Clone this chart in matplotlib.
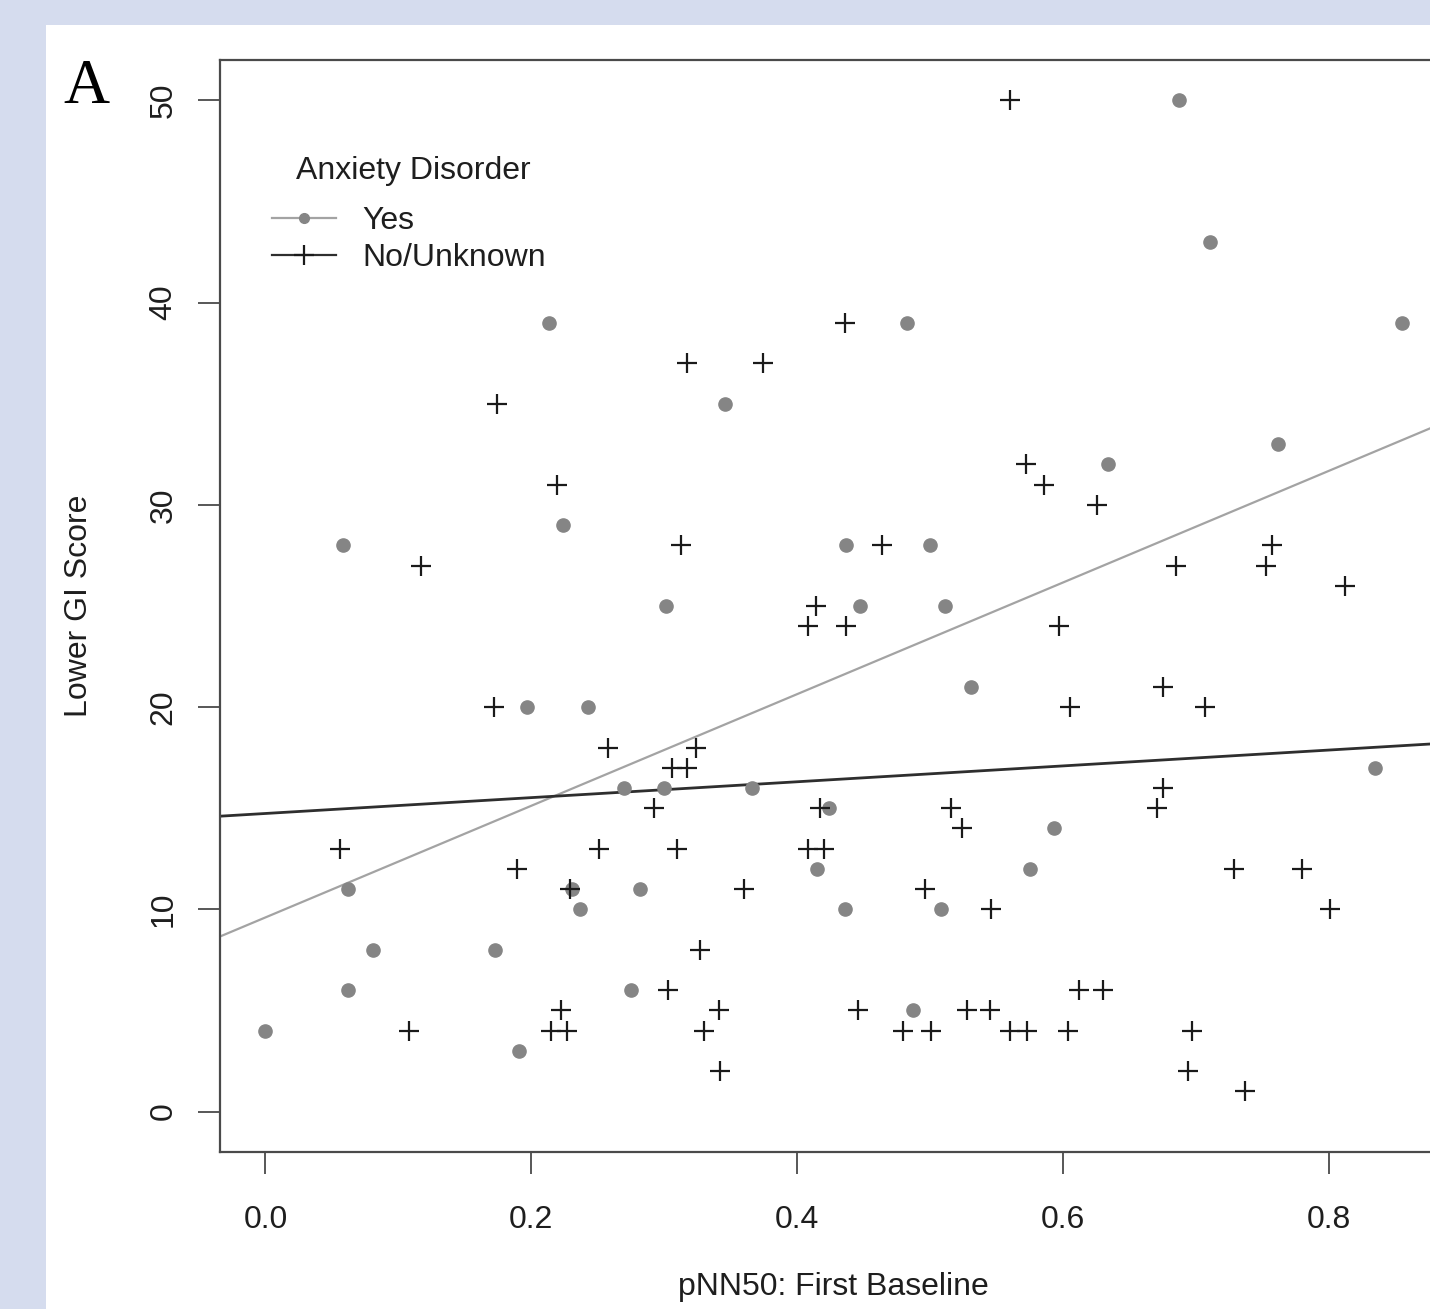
import matplotlib
matplotlib.use('Agg')
import matplotlib.pyplot as plt
from matplotlib.lines import Line2D
from matplotlib.patches import Rectangle

plt.rcParams['font.family'] = ['Liberation Sans', 'DejaVu Sans']

# anxiety disorder = Yes
yes_x = [0.000, 0.058, 0.062, 0.062, 0.081, 0.173, 0.191, 0.197, 0.213, 0.224,
         0.231, 0.237, 0.243, 0.270, 0.275, 0.282, 0.300, 0.301, 0.346, 0.366,
         0.415, 0.424, 0.436, 0.437, 0.447, 0.483, 0.487, 0.500, 0.508, 0.511,
         0.531, 0.575, 0.593, 0.634, 0.687, 0.711, 0.762, 0.835, 0.855]
yes_y = [4, 28, 11, 6, 8, 8, 3, 20, 39, 29,
         11, 10, 20, 16, 6, 11, 16, 25, 35, 16,
         12, 15, 10, 28, 25, 39, 5, 28, 10, 25,
         21, 12, 14, 32, 50, 43, 33, 17, 39]

# anxiety disorder = No/Unknown
no_x = [0.056, 0.108, 0.117, 0.172, 0.174, 0.189, 0.215, 0.219, 0.222, 0.227,
        0.229, 0.251, 0.258, 0.292, 0.303, 0.306, 0.310, 0.313, 0.317, 0.317,
        0.324, 0.327, 0.330, 0.341, 0.342, 0.360, 0.374, 0.408, 0.408, 0.414,
        0.417, 0.420, 0.436, 0.437, 0.446, 0.464, 0.480, 0.496, 0.501, 0.516,
        0.524, 0.528, 0.545, 0.546, 0.560, 0.560, 0.572, 0.573, 0.586, 0.597,
        0.604, 0.605, 0.612, 0.626, 0.630, 0.671, 0.675, 0.675, 0.685, 0.694,
        0.697, 0.707, 0.729, 0.737, 0.753, 0.757, 0.780, 0.801, 0.812]
no_y = [13, 4, 27, 20, 35, 12, 4, 31, 5, 4,
        11, 13, 18, 15, 6, 17, 13, 28, 17, 37,
        18, 8, 4, 5, 2, 11, 37, 24, 13, 25,
        15, 13, 39, 24, 5, 28, 4, 11, 4, 15,
        14, 5, 5, 10, 50, 4, 32, 4, 31, 24,
        4, 20, 6, 30, 6, 15, 16, 21, 27, 2,
        4, 20, 12, 1, 27, 28, 12, 10, 26]

# fitted lines as shown in the figure: [intercept, slope]
fit_yes = [9.6, 27.6]
fit_no = [14.74, 3.92]

legend_title = 'Anxiety Disorder'
group_labels = ['Yes', 'No/Unknown']

W, H = 1430, 1309
fig = plt.figure(figsize=(W / 100, H / 100), dpi=100, facecolor='#d5dcee')
fig.patches.append(Rectangle((46 / W, 0), 1, 1 - 25 / H, transform=fig.transFigure,
                             facecolor='white', edgecolor='none', zorder=-1))

ax = fig.add_axes([220 / W, 157 / H, (1447 - 220) / W, (1152 - 60) / H])
ax.set_xlim(-0.0342, 0.889)
ax.set_ylim(-2, 52)

dot_col = '#858585'
yes_line = '#a3a3a3'
no_line = '#2e2e2e'

ax.plot(yes_x, yes_y, 'o', color=dot_col, ms=9.5, mec=dot_col, zorder=3)
ax.plot(no_x, no_y, '+', color='#1a1a1a', ms=14, mew=1.6, zorder=3)

ax.axline((0, fit_yes[0]), slope=fit_yes[1], color=yes_line, lw=1.6, zorder=2)
ax.axline((0, fit_no[0]), slope=fit_no[1], color=no_line, lw=2.0, zorder=2)

for s in ax.spines.values():
    s.set_color('#4a4a4a')
    s.set_linewidth(1.6)

ax.set_xticks([0.0, 0.2, 0.4, 0.6, 0.8])
ax.set_xticklabels(['0.0', '0.2', '0.4', '0.6', '0.8'])
ax.set_yticks([0, 10, 20, 30, 40, 50])
ax.tick_params(direction='out', length=16, width=1.3, color='#4a4a4a',
               labelsize=23, labelcolor='#1e1e1e')
ax.tick_params(axis='x', pad=22)
ax.tick_params(axis='y', pad=14)
for lab in ax.get_yticklabels():
    lab.set_rotation(90)
    lab.set_va('center')
    lab.set_ha('right')

ax.set_xlabel('pNN50: First Baseline', fontsize=23, color='#1e1e1e', va='top')
ax.xaxis.set_label_coords(0.5, -0.110)
ax.set_ylabel('Lower GI Score', fontsize=23, color='#1e1e1e', va='center')
ax.yaxis.set_label_coords(-0.115, 0.5)

handles = [Line2D([], [], color=yes_line, lw=1.6, marker='o', ms=7, mfc=dot_col, mec=dot_col),
           Line2D([], [], color=no_line, lw=1.6, marker='+', ms=14, mew=1.6, mec='#1a1a1a')]
ax.legend(handles, group_labels, loc='upper left', bbox_to_anchor=(0.0424, 0.8665),
          frameon=False, fontsize=23, borderpad=0, borderaxespad=0,
          handlelength=2.0, handletextpad=0.84, labelspacing=0.24, labelcolor='#1e1e1e')
ax.text((413 - 220) / 1227, 1 - (171 - 60) / 1092, legend_title, transform=ax.transAxes,
        fontsize=23, color='#1e1e1e', ha='center', va='center')

fig.text(86 / W, 1 - 88 / H, 'A', family='Liberation Serif', fontsize=46,
         ha='center', va='center', color='black')

fig.savefig('out.png', dpi=100, facecolor=fig.get_facecolor())
